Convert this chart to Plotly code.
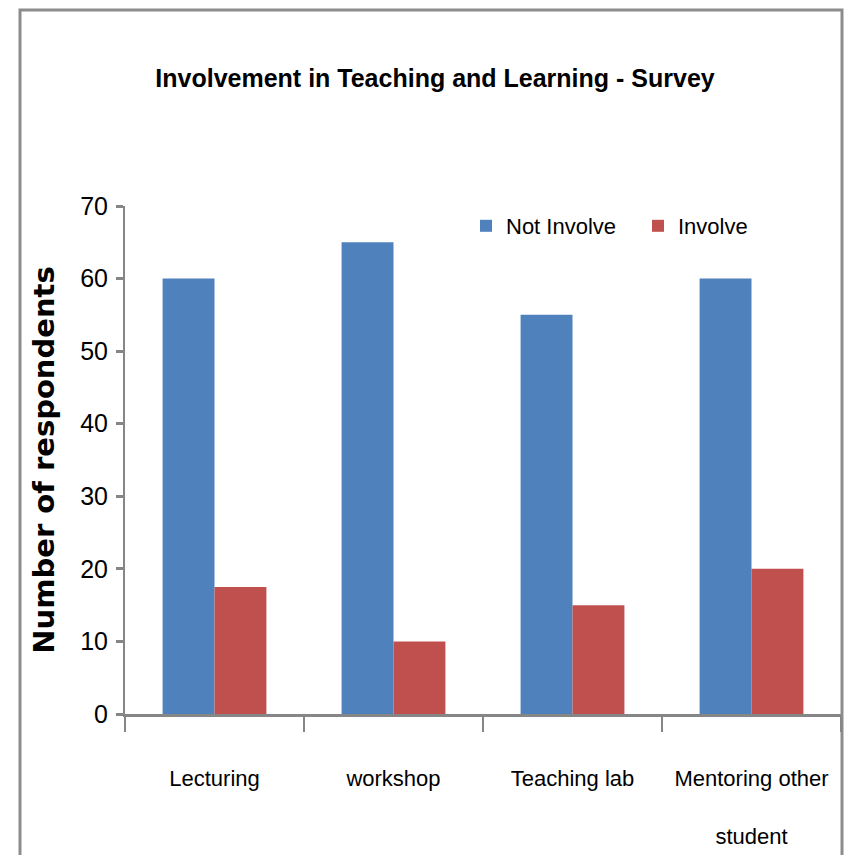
import plotly.graph_objects as go

categories = ["Lecturing", "workshop", "Teaching lab", "Mentoring other student"]
tick_labels = ["Lecturing", "workshop", "Teaching lab", "Mentoring other<br> <br>student"]
not_involve = [60, 65, 55, 60]
involve = [17.5, 10, 15, 20]
series_names = ["Not Involve", "Involve"]
colors = ["#4F81BD", "#C0504D"]

FONT = "Liberation Sans, Arial, sans-serif"

fig = go.Figure()
fig.add_trace(go.Bar(x=categories, y=not_involve, name=series_names[0], marker_color=colors[0], marker_line_width=0))
fig.add_trace(go.Bar(x=categories, y=involve, name=series_names[1], marker_color=colors[1], marker_line_width=0))

OFF = 8  # page body margin
W, H = 852 - OFF, 863 - 2 * OFF
L, T, B = 125 - OFF, 206 - OFF, 149 - OFF
R = W - (841 - OFF)
pw, ph = W - L - R, H - T - B

def px(x):  # reference-screen x -> paper
    return (x - OFF - L) / pw

def py(y):  # reference-screen y -> paper
    return (H - B - (y - OFF)) / ph

fig.update_layout(
    width=W, height=H,
    margin=dict(l=L, r=R, t=T, b=B, pad=0, autoexpand=False),
    paper_bgcolor="white", plot_bgcolor="white",
    barmode="group", bargap=0.42, bargroupgap=0,
    title=dict(text="<b>Involvement in Teaching and Learning - Survey</b>",
               font=dict(family=FONT, size=25, color="black"),
               x=px(435), xref="paper", xanchor="center",
               y=1 - (78 - OFF) / H, yref="container", yanchor="middle"),
    legend=dict(orientation="h", x=px(466), y=py(205), xanchor="left", yanchor="top",
                font=dict(family=FONT, size=22, color="black"),
                bgcolor="rgba(0,0,0,0)", itemwidth=30, traceorder="normal",
                entrywidth=127, entrywidthmode="pixels"),
    xaxis=dict(tickmode="array", tickvals=categories, ticktext=tick_labels,
               tickson="boundaries", ticks="outside", ticklen=15, tickwidth=2, tickcolor="#868686",
               showline=True, linecolor="#868686", linewidth=3,
               tickfont=dict(family=FONT, size=22, color="black"), tickangle=0,
               ticklabelstandoff=43, showgrid=False, automargin=False),
    yaxis=dict(range=[0, 70], dtick=10, ticks="outside", ticklen=7, tickwidth=3, tickcolor="#868686",
               showline=True, linecolor="#868686", linewidth=2,
               tickfont=dict(family=FONT, size=25, color="black"),
               ticklabelstandoff=3, showgrid=False, zeroline=False, automargin=False,
               title=dict(text="<b>Number of respondents</b>",
                          font=dict(family="DejaVu Sans, Verdana, sans-serif", size=29, color="black"),
                          standoff=17)),
    shapes=[dict(type="rect", xref="paper", yref="paper",
                 x0=px(20), x1=px(842), y0=py(10), y1=py(900),
                 line=dict(color="#8C8C8C", width=3), fillcolor="rgba(0,0,0,0)", layer="below")],
)

fig.write_html("out.html")
